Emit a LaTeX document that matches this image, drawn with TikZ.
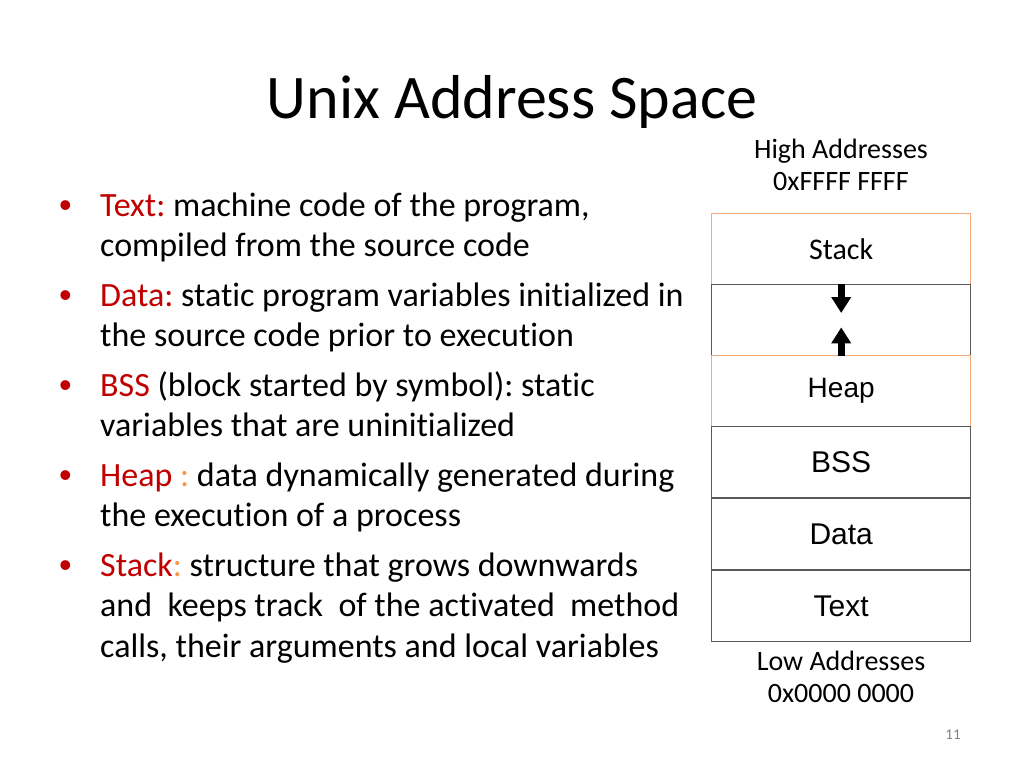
\documentclass[tikz,border=0pt]{standalone}
\usepackage{fontspec}
\setmainfont{Carlito}[Ligatures=NoCommon]
\newfontfamily\arialf{Liberation Sans}
\usetikzlibrary{arrows.meta}
\definecolor{kred}{HTML}{C00000}
\definecolor{korange}{HTML}{F79646}
\definecolor{boxorange}{HTML}{F2AA78}
\definecolor{boxgray}{HTML}{595959}
\tikzset{
  bodyline/.style={anchor=base west,inner sep=0pt,font=\fontsize{34}{40}\selectfont\frenchspacing},
  bulletdot/.style={anchor=base west,inner sep=0pt,text=kred,font=\arialf\fontsize{36}{40}\selectfont},
  addrlabel/.style={anchor=base,inner sep=0pt,font=\fontsize{28}{32}\selectfont},
  segbox/.style={draw=boxgray,line width=1.4pt,minimum width=259pt,minimum height=71pt,inner sep=0pt,anchor=north west},
  orangebox/.style={segbox,draw=boxorange},
  seglabel/.style={font=\arialf\fontsize{30}{34}\selectfont},
  growarrow/.style={line width=7pt,-{Triangle[width=19pt,length=16pt]}},
}
\begin{document}
\begin{tikzpicture}[x=1pt,y=-1pt]
\useasboundingbox[fill=white] (0,0) rectangle (1024,768);
% title
\node[anchor=base,inner sep=0pt,font=\fontsize{62}{70}\selectfont] (title) at (512,118) {Unix Address Space};
% bullets
\node[bulletdot] (b1) at (59,217) {•};
\node[bodyline] (l1) at (100,216) {\textcolor{kred}{Text:} machine code of the program,};
\node[bodyline] (l2) at (100,256) {compiled from the source code};
\node[bulletdot] (b2) at (59,307) {•};
\node[bodyline] (l3) at (100,306) {\textcolor{kred}{Data:} static program variables initialized in};
\node[bodyline] (l4) at (100,346) {the source code prior to execution};
\node[bulletdot] (b3) at (59,397) {•};
\node[bodyline] (l5) at (100,396) {\textcolor{kred}{BSS} (block started by symbol): static};
\node[bodyline] (l6) at (100,436) {variables that are uninitialized};
\node[bulletdot] (b4) at (59,487) {•};
\node[bodyline] (l7) at (100,486) {\textcolor{kred}{Heap} \textcolor{korange}{:} data dynamically generated during};
\node[bodyline] (l8) at (100,526) {the execution of a process};
\node[bulletdot] (b5) at (59,577) {•};
\node[bodyline] (l9) at (100,576) {\textcolor{kred}{Stack}\textcolor{korange}{:} structure that grows downwards};
\node[bodyline] (l10) at (100,616) {and\ \ keeps track\ \ of the activated\ \ method};
\node[bodyline] (l11) at (100,657) {calls, their arguments and local variables};
% addresses
\node[addrlabel] (hi1) at (841,158) {High Addresses};
\node[addrlabel] (hi2) at (841,190) {0xFFFF FFFF};
\node[addrlabel] (lo1) at (841,670) {Low Addresses};
\node[addrlabel] (lo2) at (841,702) {0x0000 0000};
% memory segments
\node[orangebox,font=\fontsize{30}{34}\selectfont] (stack) at (711,213) {Stack};
\node[segbox] (gap) at (711,284) {};
\node[orangebox,font=\arialf\fontsize{28}{32}\selectfont] (heap) at (711,355) {Heap};
\node[segbox,seglabel] (bss) at (711,426) {BSS};
\node[segbox,seglabel] (data) at (711,498) {Data};
\node[segbox,seglabel] (text) at (711,570) {Text};
% growth arrows
\coordinate (downtip) at ([yshift=-29pt]gap.north);
\coordinate (uptip) at ([yshift=29pt]gap.south);
\draw[growarrow] (gap.north) -- (downtip);
\draw[growarrow] (gap.south) -- (uptip);
% slide number
\node[anchor=base,inner sep=0pt,text=gray,font=\fontsize{15}{18}\selectfont] (num) at (953,739) {11};
\end{tikzpicture}
\end{document}
